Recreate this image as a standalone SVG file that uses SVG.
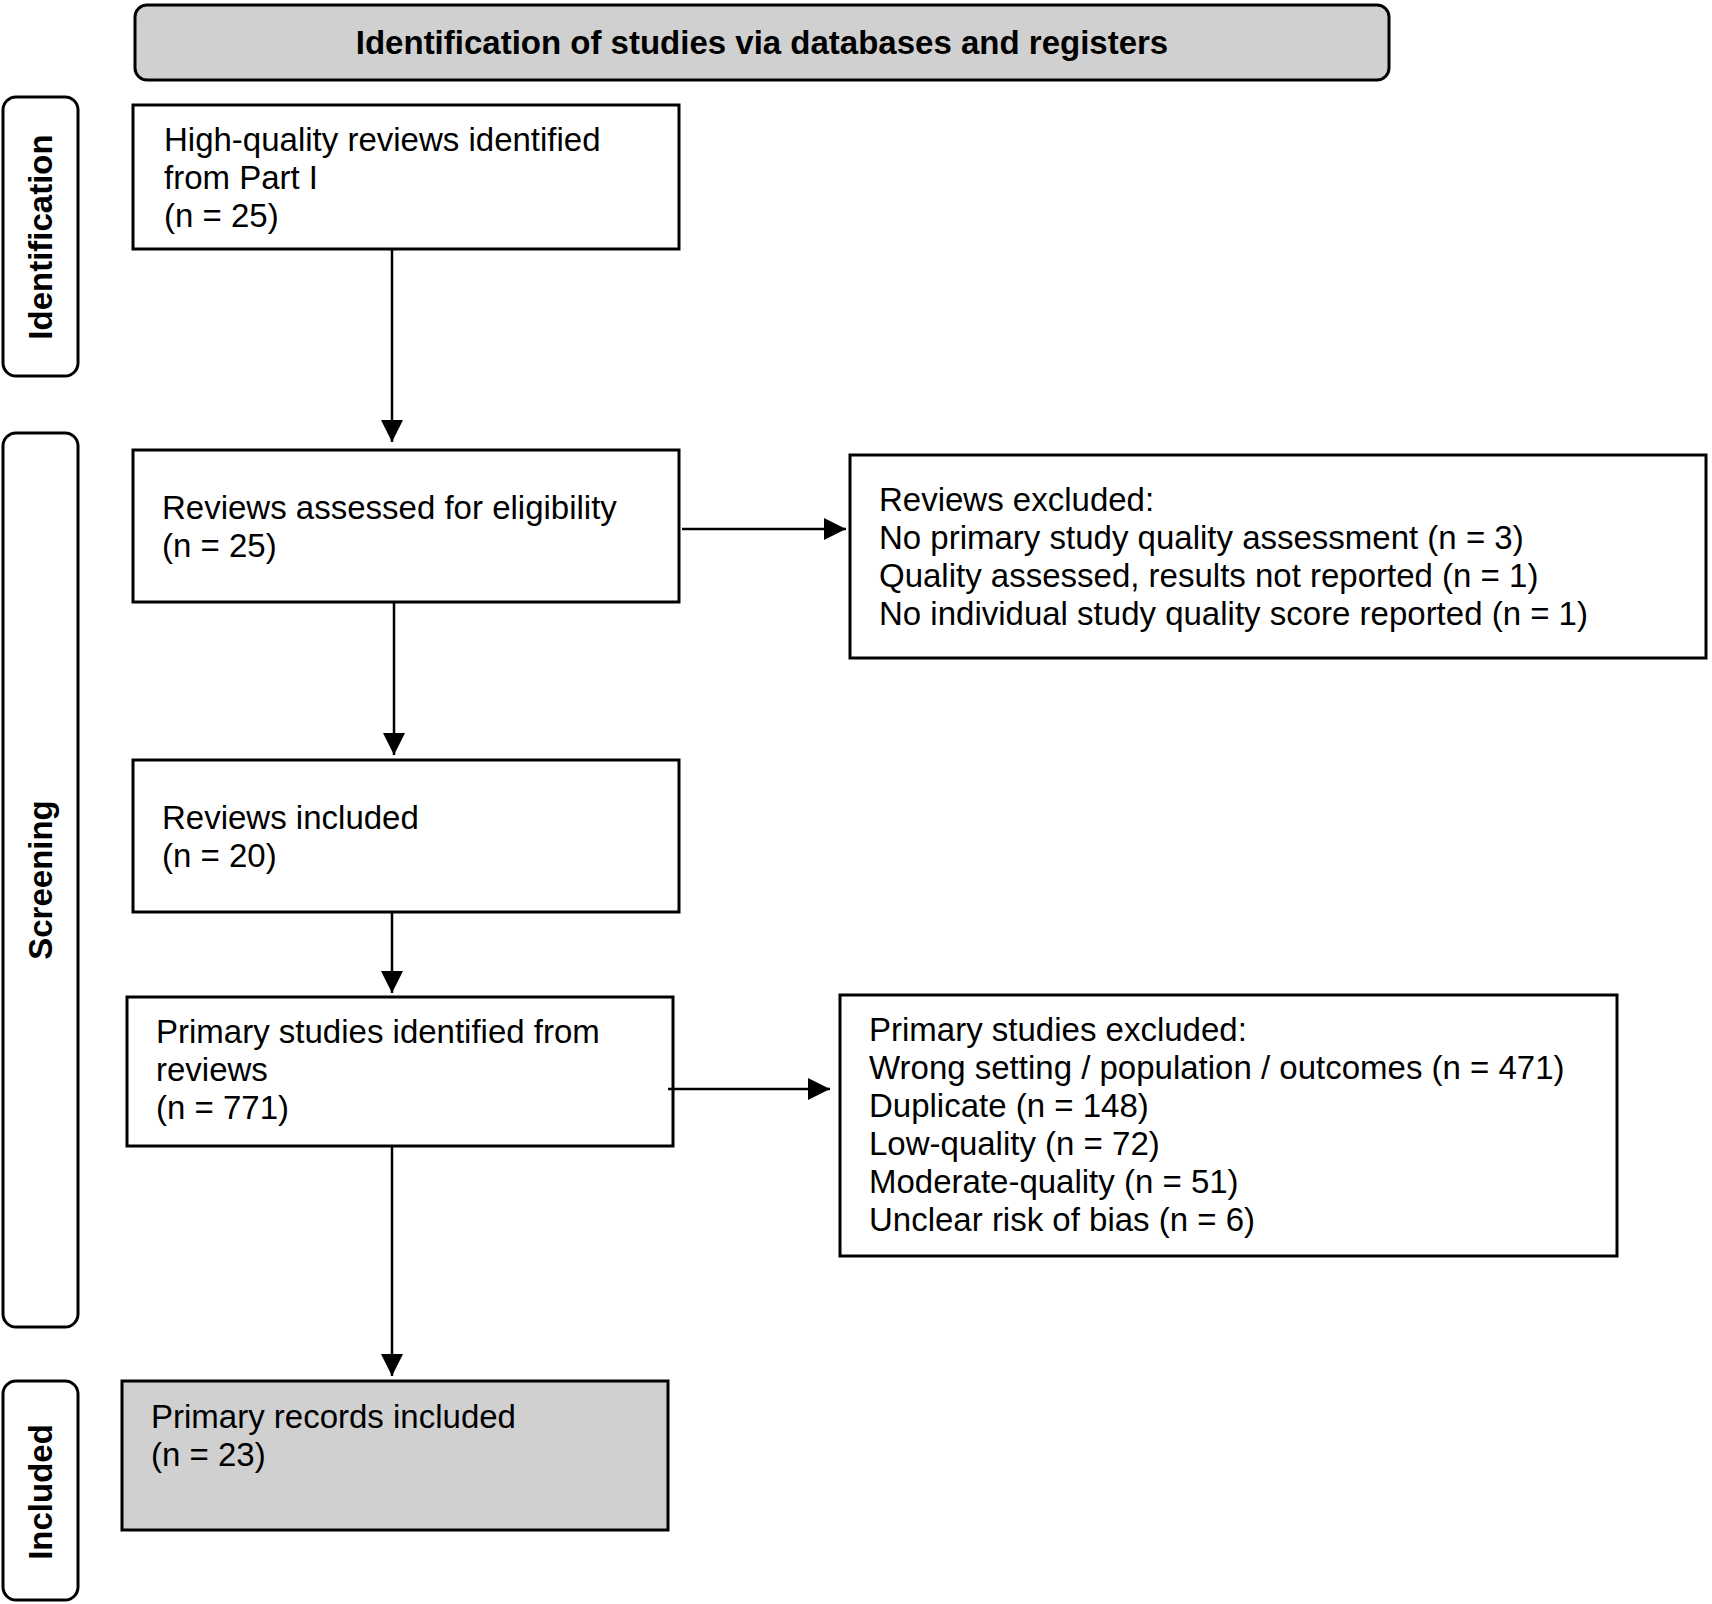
<svg xmlns="http://www.w3.org/2000/svg" width="1712" height="1604" viewBox="0 0 1712 1604">
<defs>
<marker id="ah" markerWidth="22" markerHeight="22" viewBox="0 0 22 22" refX="22" refY="11" orient="auto" markerUnits="userSpaceOnUse">
<path d="M0,0 L22,11 L0,22 Z" fill="#000"/>
</marker>
<style>
.box{fill:#fff;stroke:#000;stroke-width:3}
.gray{fill:#d0d0d0;stroke:#000;stroke-width:3}
.side{fill:#fff;stroke:#000;stroke-width:3}
.t{font-family:"Liberation Sans",Arial,sans-serif;font-size:33px;fill:#000}
.b{font-family:"Liberation Sans",Arial,sans-serif;font-size:33px;font-weight:bold;fill:#000}
.c{stroke:#000;stroke-width:2.5;fill:none;marker-end:url(#ah)}
</style>
</defs>
<rect width="1712" height="1604" fill="#fff"/>
<g id="header">
<rect class="gray" x="135" y="5" width="1254" height="75" rx="12"/>
<text class="b" x="762" y="54" text-anchor="middle">Identification of studies via databases and registers</text>
</g>
<g id="side-identification">
<rect class="side" x="3" y="97" width="75" height="279" rx="13"/>
<text class="b" transform="translate(52,237) rotate(-90)" text-anchor="middle">Identification</text>
</g>
<g id="side-screening">
<rect class="side" x="3" y="433" width="75" height="894" rx="13"/>
<text class="b" transform="translate(52,880) rotate(-90)" text-anchor="middle">Screening</text>
</g>
<g id="side-included">
<rect class="side" x="3" y="1381" width="75" height="219" rx="13"/>
<text class="b" transform="translate(52,1492) rotate(-90)" text-anchor="middle">Included</text>
</g>
<g id="n1">
<rect class="box" x="133" y="105" width="546" height="144"/>
<text class="t" x="164" y="151">High-quality reviews identified</text>
<text class="t" x="164" y="189">from Part I</text>
<text class="t" x="164" y="227">(n = 25)</text>
</g>
<g id="n2">
<rect class="box" x="133" y="450" width="546" height="152"/>
<text class="t" x="162" y="519">Reviews assessed for eligibility</text>
<text class="t" x="162" y="557">(n = 25)</text>
</g>
<g id="n3">
<rect class="box" x="850" y="455" width="856" height="203"/>
<text class="t" x="879" y="511">Reviews excluded:</text>
<text class="t" x="879" y="549">No primary study quality assessment (n = 3)</text>
<text class="t" x="879" y="587">Quality assessed, results not reported (n = 1)</text>
<text class="t" x="879" y="625">No individual study quality score reported (n = 1)</text>
</g>
<g id="n4">
<rect class="box" x="133" y="760" width="546" height="152"/>
<text class="t" x="162" y="829">Reviews included</text>
<text class="t" x="162" y="867">(n = 20)</text>
</g>
<g id="n5">
<rect class="box" x="127" y="997" width="546" height="149"/>
<text class="t" x="156" y="1043">Primary studies identified from</text>
<text class="t" x="156" y="1081">reviews</text>
<text class="t" x="156" y="1119">(n = 771)</text>
</g>
<g id="n6">
<rect class="box" x="840" y="995" width="777" height="261"/>
<text class="t" x="869" y="1041">Primary studies excluded:</text>
<text class="t" x="869" y="1079">Wrong setting / population / outcomes (n = 471)</text>
<text class="t" x="869" y="1117">Duplicate (n = 148)</text>
<text class="t" x="869" y="1155">Low-quality (n = 72)</text>
<text class="t" x="869" y="1193">Moderate-quality (n = 51)</text>
<text class="t" x="869" y="1231">Unclear risk of bias (n = 6)</text>
</g>
<g id="n7">
<rect class="gray" x="122" y="1381" width="546" height="149"/>
<text class="t" x="151" y="1428">Primary records included</text>
<text class="t" x="151" y="1466">(n = 23)</text>
</g>
<g id="connectors">
<line class="c" x1="392" y1="249" x2="392" y2="442"/>
<line class="c" x1="394" y1="602" x2="394" y2="755"/>
<line class="c" x1="392" y1="912" x2="392" y2="993"/>
<line class="c" x1="392" y1="1146" x2="392" y2="1376"/>
<line class="c" x1="682" y1="529" x2="846" y2="529"/>
<line class="c" x1="668" y1="1089" x2="830" y2="1089"/>
</g>
</svg>
